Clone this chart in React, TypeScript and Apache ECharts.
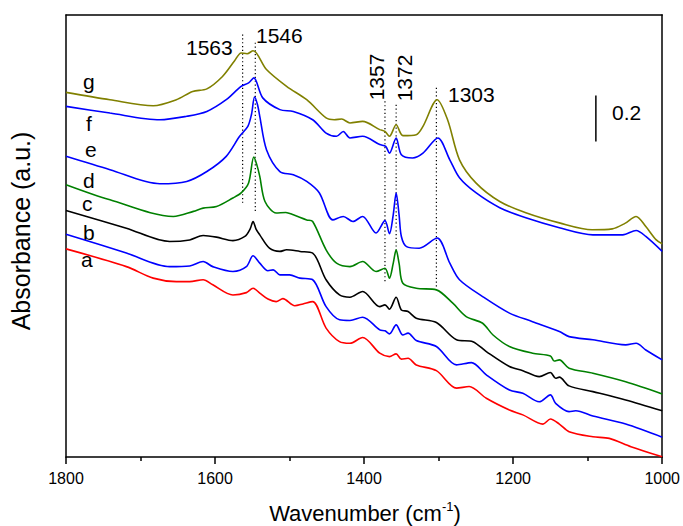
import React, { useEffect, useRef } from "react";
import * as echarts from "echarts";

type Pt = [number, number];

// IR difference spectra, [wavenumber (cm-1), absorbance]
const specA: Pt[] = [[1800,0.904],[1719,0.827],[1683,0.777],[1652,0.762],[1634,0.762],[1616,0.770],[1603,0.748],[1576,0.704],[1558,0.714],[1549,0.733],[1540,0.712],[1529,0.686],[1518,0.675],[1509,0.688],[1493,0.657],[1482,0.665],[1469,0.675],[1451,0.560],[1433,0.501],[1419,0.494],[1402,0.519],[1379,0.451],[1366,0.436],[1357,0.448],[1350,0.425],[1341,0.429],[1330,0.400],[1303,0.375],[1276,0.299],[1259,0.306],[1236,0.255],[1205,0.204],[1187,0.183],[1160,0.143],[1150,0.165],[1138,0.143],[1125,0.110],[1093,0.088],[1071,0.081],[1042,0.045],[1000,0.001]];
const specB: Pt[] = [[1800,0.968],[1719,0.886],[1661,0.827],[1634,0.830],[1616,0.849],[1603,0.827],[1576,0.806],[1558,0.827],[1549,0.874],[1540,0.842],[1529,0.809],[1522,0.813],[1513,0.791],[1500,0.791],[1486,0.777],[1469,0.770],[1451,0.653],[1433,0.596],[1419,0.593],[1402,0.607],[1379,0.552],[1372,0.548],[1366,0.535],[1357,0.574],[1348,0.530],[1341,0.538],[1330,0.506],[1303,0.480],[1276,0.400],[1256,0.410],[1236,0.357],[1205,0.291],[1187,0.277],[1165,0.240],[1150,0.270],[1143,0.233],[1125,0.197],[1116,0.201],[1093,0.178],[1049,0.143],[1000,0.086]];
const specC: Pt[] = [[1800,1.071],[1719,0.994],[1661,0.936],[1634,0.943],[1616,0.962],[1598,0.955],[1576,0.940],[1560,0.958],[1553,0.990],[1549,1.023],[1545,0.990],[1540,0.965],[1527,0.907],[1513,0.893],[1504,0.900],[1486,0.893],[1469,0.886],[1451,0.770],[1433,0.704],[1419,0.694],[1402,0.719],[1379,0.653],[1372,0.661],[1366,0.642],[1357,0.694],[1350,0.639],[1341,0.632],[1330,0.603],[1303,0.584],[1276,0.509],[1254,0.501],[1236,0.458],[1205,0.393],[1187,0.375],[1165,0.349],[1150,0.367],[1143,0.342],[1138,0.347],[1125,0.309],[1093,0.284],[1049,0.248],[1000,0.201]];
const specD: Pt[] = [[1800,1.183],[1741,1.117],[1656,1.045],[1629,1.067],[1616,1.081],[1598,1.088],[1576,1.125],[1565,1.147],[1555,1.190],[1548,1.303],[1544,1.270],[1540,1.219],[1533,1.110],[1518,1.060],[1505,1.062],[1495,1.052],[1477,1.030],[1469,1.023],[1451,0.900],[1437,0.842],[1419,0.827],[1402,0.849],[1384,0.806],[1372,0.820],[1366,0.777],[1361,0.840],[1357,0.900],[1353,0.840],[1348,0.755],[1330,0.733],[1303,0.726],[1281,0.668],[1263,0.610],[1241,0.581],[1227,0.530],[1205,0.480],[1174,0.451],[1150,0.439],[1145,0.417],[1138,0.422],[1125,0.386],[1093,0.364],[1049,0.327],[1000,0.274]];
const specE: Pt[] = [[1800,1.306],[1741,1.248],[1674,1.187],[1638,1.197],[1611,1.240],[1585,1.306],[1567,1.393],[1556,1.436],[1551,1.490],[1547,1.564],[1543,1.530],[1540,1.480],[1531,1.335],[1513,1.240],[1495,1.226],[1477,1.197],[1460,1.147],[1442,1.030],[1428,1.045],[1415,1.023],[1402,1.045],[1384,0.973],[1372,1.027],[1366,0.970],[1361,1.050],[1357,1.147],[1353,1.050],[1350,0.958],[1343,0.914],[1326,0.907],[1302,0.951],[1285,0.842],[1272,0.770],[1241,0.697],[1205,0.625],[1174,0.588],[1138,0.545],[1125,0.523],[1093,0.509],[1049,0.487],[1035,0.494],[1022,0.465],[1000,0.422]];
const specF: Pt[] = [[1800,1.523],[1741,1.494],[1674,1.465],[1638,1.480],[1611,1.501],[1585,1.552],[1565,1.610],[1555,1.625],[1548,1.647],[1536,1.560],[1513,1.509],[1495,1.501],[1469,1.465],[1451,1.407],[1437,1.393],[1428,1.414],[1419,1.386],[1402,1.393],[1379,1.357],[1371,1.349],[1366,1.320],[1357,1.386],[1350,1.313],[1335,1.299],[1321,1.320],[1301,1.386],[1285,1.291],[1272,1.213],[1250,1.148],[1218,1.083],[1183,1.039],[1138,0.996],[1093,0.965],[1053,0.965],[1035,0.984],[1022,0.958],[1000,0.893]];
const specG: Pt[] = [[1800,1.584],[1741,1.552],[1683,1.526],[1652,1.552],[1630,1.588],[1611,1.599],[1590,1.653],[1574,1.720],[1565,1.755],[1557,1.752],[1549,1.765],[1531,1.683],[1504,1.610],[1477,1.552],[1451,1.473],[1440,1.465],[1430,1.468],[1419,1.451],[1402,1.458],[1379,1.422],[1372,1.414],[1366,1.393],[1357,1.443],[1348,1.396],[1330,1.400],[1321,1.436],[1302,1.552],[1288,1.465],[1272,1.291],[1250,1.191],[1218,1.110],[1183,1.061],[1138,1.017],[1094,0.987],[1067,0.991],[1050,1.015],[1035,1.045],[1022,1.001],[1008,0.943],[1000,0.926]];

const spectra: Pt[][] = [specA, specB, specC, specD, specE, specF, specG];
const curveNames = ["a", "b", "c", "d", "e", "f", "g"];
const curveColors = ["#ff0000", "#0000ff", "#000000", "#008000", "#0000ff", "#0000ff", "#808000"];

// dotted guide lines at band positions: wavenumber, top and bottom absorbance
const guideWn = [1563, 1546, 1372, 1357, 1303];
const guideTop = [1.835, 1.8, 1.545, 1.53, 1.604];
const guideBottom = [1.104, 1.065, 0.762, 0.9, 0.726];
const bandTexts = ["1563", "1546", "1357", "1372", "1303"];

// absorbance scale bar
const scaleBarWn = 1089;
const scaleBarRange: [number, number] = [1.37, 1.57];
const scaleBarText = "0.2";

const xTicks = { min: 1000, max: 1800, interval: 200 };

const FONT = "'Liberation Sans', Arial, Helvetica, sans-serif";

export default function App() {
  const ref = useRef<HTMLDivElement>(null);

  useEffect(() => {
    document.body.style.margin = "0";
    const chart = echarts.init(ref.current!, undefined, { renderer: "svg" });

    const spectrumSeries = spectra.map((d, i) => ({
      name: curveNames[i],
      type: "line",
      data: d,
      smooth: 0.3,
      symbol: "none",
      lineStyle: { color: curveColors[i], width: 1.6 },
      z: 3,
    }));

    const guideSeries = guideWn.map((w, i) => ({
      type: "line",
      data: [[w, guideTop[i]], [w, guideBottom[i]]],
      symbol: "none",
      lineStyle: { color: "#000", width: 1.2, type: [1.2, 2.6] },
      z: 2,
    }));

    const barSeries = {
      type: "line",
      data: [[scaleBarWn, scaleBarRange[0]], [scaleBarWn, scaleBarRange[1]]],
      symbol: "none",
      lineStyle: { color: "#000", width: 1.5 },
    };

    const txt = (x: number, y: number, text: string, size: number) => ({
      type: "text",
      x,
      y,
      style: {
        text,
        fill: "#000",
        font: `${size}px ${FONT}`,
        textAlign: "left",
        textVerticalAlign: "middle",
      },
    });

    const vtxt = (x: number, y: number, text: string, size: number) => ({
      type: "text",
      x,
      y,
      rotation: Math.PI / 2,
      style: {
        text,
        fill: "#000",
        font: `${size}px ${FONT}`,
        textAlign: "center",
        textVerticalAlign: "middle",
      },
    });

    const letterPos: [number, number][] = [
      [81, 259], [83, 232], [82, 203], [83, 180], [85, 149], [86, 123], [83, 81],
    ];

    const graphic: any[] = [
      ...curveNames.map((n, i) => txt(letterPos[i][0], letterPos[i][1], n, 21)),
      txt(186, 47, bandTexts[0], 21),
      txt(256, 35, bandTexts[1], 21),
      vtxt(376, 77, bandTexts[2], 21),
      vtxt(404, 78, bandTexts[3], 21),
      txt(448, 94, bandTexts[4], 21),
      txt(612, 112, scaleBarText, 21),
      {
        type: "text",
        x: 365,
        y: 513,
        style: {
          text: "Wavenumber (cm{sup|-1})",
          fill: "#000",
          font: `22px ${FONT}`,
          textAlign: "center",
          textVerticalAlign: "middle",
          rich: {
            sup: { fontSize: 13, fontFamily: FONT, fill: "#000", padding: [0, 0, 13, 0] },
          },
        },
      },
      vtxt(21, 231, "Absorbance (a.u.)", 25),
    ];

    const frameAxis = {
      axisLine: { show: true, onZero: false, lineStyle: { color: "#000", width: 1.5 } },
      axisTick: { show: false },
      axisLabel: { show: false },
      splitLine: { show: false },
    };

    chart.setOption({
      animation: false,
      grid: { left: 66, right: 20, top: 15, bottom: 69 },
      xAxis: [
        {
          type: "value",
          min: xTicks.min,
          max: xTicks.max,
          interval: xTicks.interval,
          inverse: true,
          position: "bottom",
          axisLine: { show: true, onZero: false, lineStyle: { color: "#000", width: 1.5 } },
          axisTick: { show: true, length: 7, lineStyle: { color: "#000", width: 1.5 } },
          minorTick: { show: true, splitNumber: 2, length: 4, lineStyle: { color: "#000", width: 1.5 } },
          axisLabel: {
            color: "#000",
            fontSize: 16,
            fontFamily: FONT,
            margin: 13,
            formatter: (v: number) => String(v),
          },
          splitLine: { show: false },
        },
        { type: "value", min: xTicks.min, max: xTicks.max, inverse: true, position: "top", ...frameAxis },
      ],
      yAxis: [
        { type: "value", min: 0, max: 1.92, position: "left", ...frameAxis },
        { type: "value", min: 0, max: 1.92, position: "right", ...frameAxis },
      ],
      series: [...spectrumSeries, ...guideSeries, barSeries],
      graphic,
    });

    return () => chart.dispose();
  }, []);

  return (
    <div
      ref={ref}
      style={{ position: "absolute", left: 0, top: 0, width: 683, height: 526, background: "#fff" }}
    />
  );
}
